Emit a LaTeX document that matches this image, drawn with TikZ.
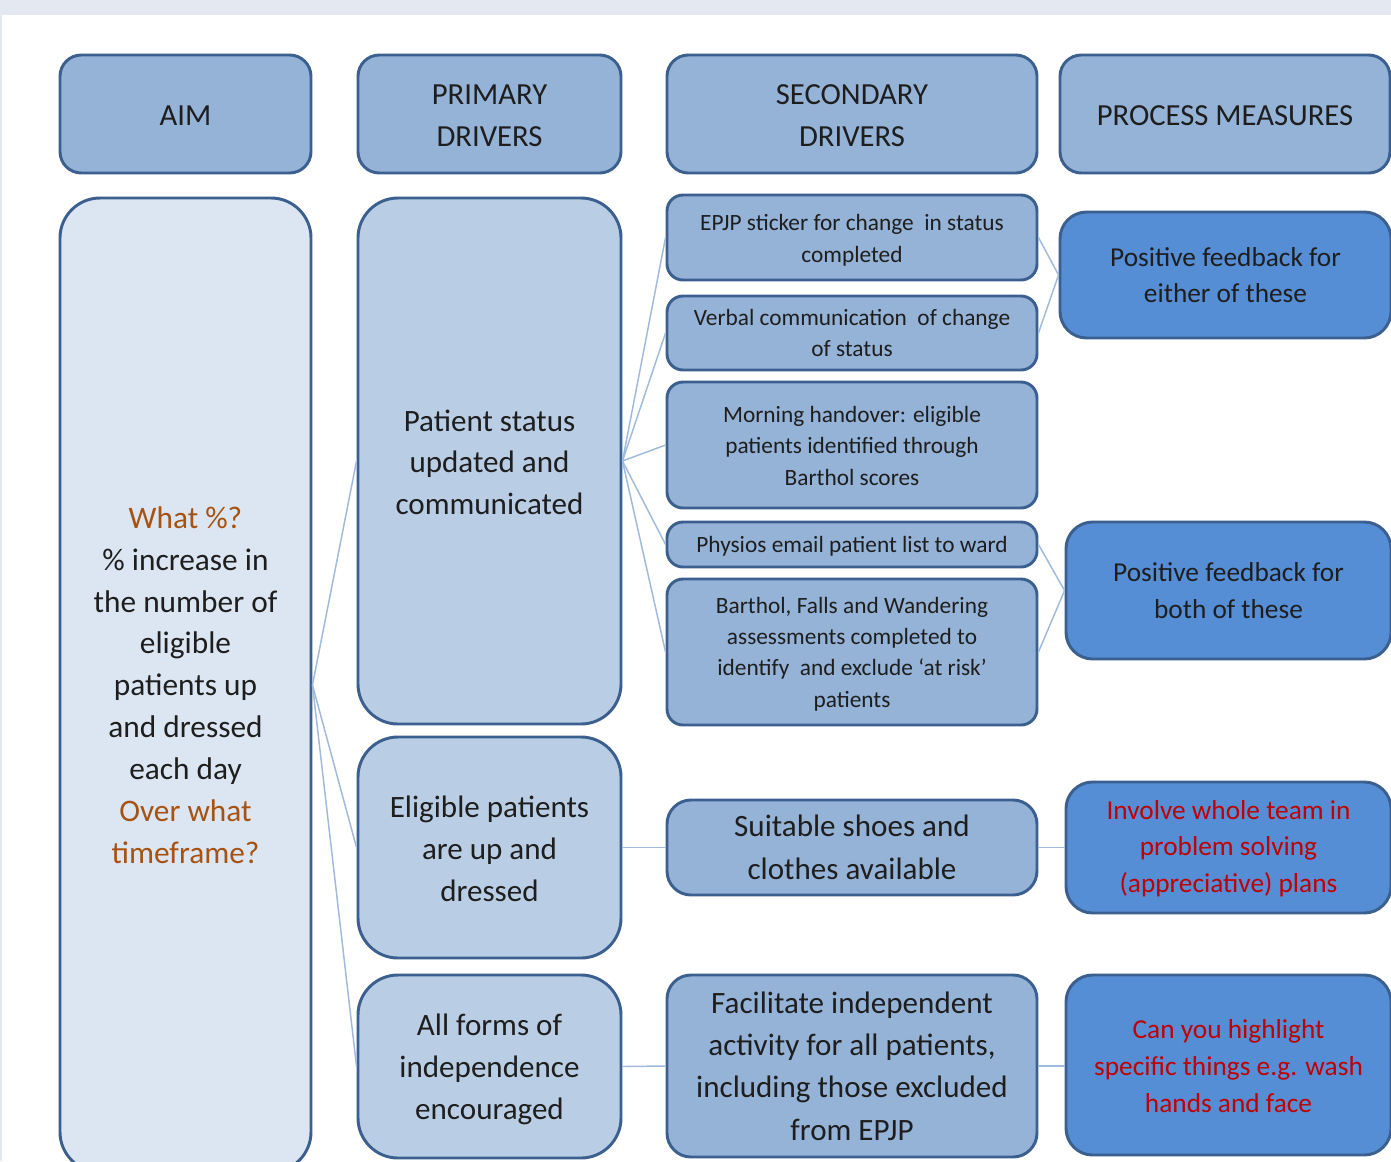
\documentclass[tikz,border=0pt]{standalone}
\usepackage{fontspec}
\setmainfont{Carlito}
\usetikzlibrary{fit}
\definecolor{bord}{RGB}{59,95,142}
\definecolor{hdr}{RGB}{149,179,215}
\definecolor{aimf}{RGB}{220,230,242}
\definecolor{prim}{RGB}{185,205,229}
\definecolor{sec}{RGB}{149,179,215}
\definecolor{proc}{RGB}{85,142,213}
\definecolor{conn}{RGB}{160,186,220}
\definecolor{brn}{RGB}{165,82,18}
\definecolor{rd}{RGB}{192,0,0}
\definecolor{band}{RGB}{228,232,240}
\definecolor{txt}{RGB}{30,30,30}
\tikzset{
  bx/.style={draw=bord, line width=2.2pt, inner sep=0pt, align=center, text=txt},
  hdrbox/.style={bx, fill=hdr, rounded corners=16pt, font=\fontsize{23}{32}\selectfont},
  aimbox/.style={bx, fill=aimf, rounded corners=30pt, font=\fontsize{23.5}{31.4}\selectfont},
  primbox/.style={bx, fill=prim, rounded corners=30pt, font=\fontsize{23.3}{31.3}\selectfont},
  secsmall/.style={bx, fill=sec, rounded corners=12pt, font=\fontsize{17.5}{23.5}\selectfont},
  secbig/.style={bx, fill=sec, rounded corners=18pt, font=\fontsize{23.3}{31.8}\selectfont},
  procbox/.style={bx, fill=proc, rounded corners=20pt, font=\fontsize{20.5}{27.5}\selectfont},
  redproc/.style={procbox, text=rd},
  conn/.style={draw=conn, line width=1.1pt},
  txtonly/.style={draw=none, fill=none}
}
% #1 name, #2-#5 corners, #6 style, #7 text, #8 downward shift of the text
\newcommand\mkbox[8]{%
  \node[#6, fit={(#2,#3) (#4,#5)}] (#1) {};%
  \node[#6, txtonly, yshift=-#8] (#1t) at (#1.center) {#7};}
\begin{document}
\begin{tikzpicture}[x=0.75pt,y=-0.75pt]
\useasboundingbox (0,0) rectangle (1391,1161);
\clip (0,0) rectangle (1391,1161);
\fill[white] (0,0) rectangle (1391,1161);
\fill[band] (0,0) rectangle (1391,15);
\fill[band] (0,0) rectangle (2,1161);
% headers
\mkbox{haim}{60}{55}{311}{173}{hdrbox}{AIM}{1.3pt}
\mkbox{hprim}{358}{55}{621}{173}{hdrbox}{PRIMARY\\DRIVERS}{1.3pt}
\mkbox{hsec}{667}{55}{1037}{173}{hdrbox}{SECONDARY\\DRIVERS}{1.3pt}
\mkbox{hproc}{1060}{55}{1390}{173}{hdrbox}{PROCESS MEASURES}{1.3pt}
% aim
\mkbox{aim}{60}{198}{311}{1172}{aimbox}{\textcolor{brn}{What \%?}\\\% increase in\\the number of\\eligible\\patients up\\and dressed\\each day\\\textcolor{brn}{Over what}\\\textcolor{brn}{timeframe?}}{0pt}
% primary
\mkbox{p1}{358}{198}{621}{724}{primbox}{Patient status\\updated and\\communicated}{1pt}
\mkbox{p2}{358}{737}{621}{958}{primbox}{Eligible patients\\are up and\\dressed}{1pt}
\mkbox{p3}{358}{975}{621}{1158}{primbox}{All forms of\\independence\\encouraged}{2pt}
% secondary
\mkbox{s1}{667}{195}{1037}{280}{secsmall}{EPJP sticker for change \ in status\\completed}{2pt}
\mkbox{s2}{667}{296}{1037}{370}{secsmall}{Verbal communication \ of change\\of status}{0pt}
\mkbox{s3}{667}{382}{1037}{508}{secsmall}{Morning handover: eligible\\patients identified through\\Barthol scores}{0.5pt}
\mkbox{s4}{667}{522}{1037}{567}{secsmall}{Physios email patient list to ward}{1.7pt}
\mkbox{s5}{667}{579}{1037}{725}{secsmall}{Barthol, Falls and Wandering\\assessments completed to\\identify \ and exclude `at risk'\\patients}{1.5pt}
\mkbox{s6}{667}{800}{1037}{895}{secbig}{Suitable shoes and\\clothes available}{0pt}
\mkbox{s7}{667}{975}{1037}{1157}{secbig}{Facilitate independent\\activity for all patients,\\including those excluded\\from EPJP}{0pt}
% process
\mkbox{m1}{1060}{212}{1391}{338}{procbox}{Positive feedback for\\either of these}{0pt}
\mkbox{m2}{1066}{522}{1391}{659}{procbox}{Positive feedback for\\both of these}{0pt}
\mkbox{m3}{1066}{782}{1391}{913}{redproc}{Involve whole team in\\problem solving\\(appreciative) plans}{0.8pt}
\mkbox{m4}{1066}{975}{1391}{1155}{redproc}{Can you highlight\\specific things e.g. wash\\hands and face}{0.8pt}
% connectors
\foreach \t in {p1,p2,p3} \draw[conn] (aim.east) -- (\t.west);
\foreach \t in {s1,s2,s3,s4,s5} \draw[conn] (p1.east) -- (\t.west);
\draw[conn] (s1.east) -- (m1.west);
\draw[conn] (s2.east) -- (m1.west);
\draw[conn] (s4.east) -- (m2.west);
\draw[conn] (s5.east) -- (m2.west);
\draw[conn] (p2.east) -- (s6.west);
\draw[conn] (s6.east) -- (m3.west |- s6.east);
\draw[conn] (p3.east) -- (s7.west);
\draw[conn] (s7.east) -- (m4.west |- s7.east);
\end{tikzpicture}
\end{document}
